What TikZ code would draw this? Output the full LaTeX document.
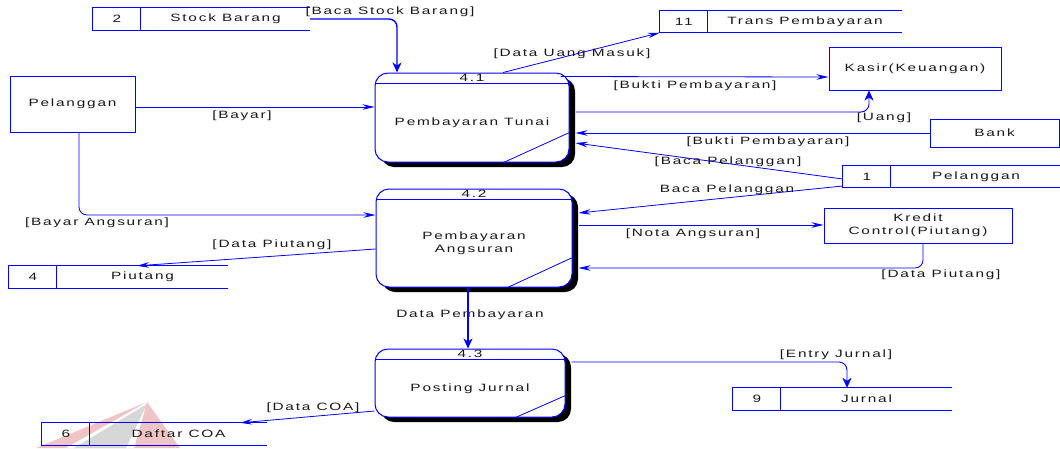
\documentclass[tikz,border=0pt]{standalone}
\usepackage{fontspec}
\setmainfont{Liberation Sans}[FakeStretch=1.45,LetterSpace=17]
\usetikzlibrary{arrows.meta,shadows,calc}
\definecolor{dfdblue}{RGB}{0,0,255}
\definecolor{logopink}{RGB}{238,196,196}
\definecolor{logogray}{RGB}{215,215,215}
\tikzset{
  txt/.style={font=\fontsize{10.6}{12.5}\selectfont, text=black!90, inner sep=0pt, align=center},
  proc/.style={draw=dfdblue, line width=1pt, fill=white, rounded corners=13pt, inner sep=0pt,
    drop shadow={shadow xshift=6pt, shadow yshift=-5pt, fill=black, opacity=1}},
  ent/.style={draw=dfdblue, line width=1pt, fill=white, inner sep=0pt},
  slot/.style={inner sep=0pt},
  sline/.style={dfdblue, line width=1pt},
  dline/.style={dfdblue, line width=0.8pt},
  flow/.style={dfdblue, line width=0.8pt, rounded corners=8pt, -{Stealth[length=12pt,width=5.5pt,inset=4pt]}},
  flowt/.style={dfdblue, line width=0.9pt, rounded corners=8pt, -{Stealth[length=10pt,width=9pt,inset=3pt,line width=0.5pt]}},
  flowb/.style={dfdblue, line width=1.4pt, rounded corners=8pt, -{Stealth[length=10pt,width=9pt,inset=3pt]}},
}
% a data store: open box with a number cell
\newcommand{\dstore}[6]{% name, center x, center y, width, number, title
  \node[slot, minimum width=#4pt, minimum height=22pt] (#1) at (#2,#3) {};
  \draw[sline] (#1.north east) -- (#1.north west) -- (#1.south west) -- (#1.south east);
  \draw[sline] ([xshift=48pt]#1.north west) -- ([xshift=48pt]#1.south west);
  \node[txt] (#1num) at ([xshift=24pt]#1.west) {#5};
  \node[txt] (#1ttl) at ($(#1.east)!0.5!([xshift=48pt]#1.west)$) {#6};
}
% a process: rounded box with id header and corner cut
\newcommand{\dproc}[8]{% name, cx, cy, w, h, id, title, cut line
  \node[proc, minimum width=#4pt, minimum height=#5pt] (#1) at (#2,#3) {};
  \draw[sline] ([yshift=-11pt]#1.north west) -- ([yshift=-11pt]#1.north east);
  \node[txt] (#1id) at ([yshift=-5.5pt]#1.north) {#6};
  \node[txt] (#1ttl) at ($([yshift=-11pt]#1.north)!0.5!(#1.south)$) {#7};
  \draw[dline] #8;
}
\begin{document}
\begin{tikzpicture}[x=1pt,y=-1pt]
\useasboundingbox (0,0) rectangle (1060,448);

% faint logo in the lower left corner
\fill[logopink] (147,402) -- (36,448) -- (180,448) -- cycle;
\fill[white] (147,402) -- (66,448) -- (134,448) -- cycle;
\fill[logogray] (147,404) -- (74,448) -- (126,448) -- cycle;

% processes
\dproc{p1}{472}{117.5}{194}{89}{4.1}{Pembayaran Tunai}{([xshift=-66pt]p1.south east) -- ([yshift=30pt]p1.south east)}
\dproc{p2}{474}{238}{196}{98}{4.2}{Pembayaran\\Angsuran}{([xshift=-65pt]p2.south east) -- ([yshift=30pt]p2.south east)}
\dproc{p3}{470}{383}{190}{68}{4.3}{Posting Jurnal}{([xshift=-50pt]p3.south east) -- ([yshift=22pt]p3.south east)}

% external entities
\node[ent, minimum width=125pt, minimum height=56pt] (pel) at (72.5,104) {};
\node[txt] at (pel.center) {Pelanggan};
\node[ent, minimum width=172pt, minimum height=43pt] (kas) at (915,68.5) {};
\node[txt] at (kas.center) {Kasir(Keuangan)};
\node[ent, minimum width=129pt, minimum height=28pt] (bank) at (994.5,133) {};
\node[txt] at (bank.center) {Bank};
\node[ent, minimum width=188pt, minimum height=35pt] (kre) at (918,225.5) {};
\node[txt] at (kre.center) {Kredit\\Control(Piutang)};

% data stores
\dstore{s2}{201.5}{19}{217}{2}{Stock Barang}
\dstore{s11}{781}{21.5}{242}{11}{Trans Pembayaran}
\dstore{s1}{952}{176.5}{218}{1}{Pelanggan}
\dstore{s4}{118.5}{277}{219}{4}{Piutang}
\dstore{s6}{154.5}{434}{225}{6}{Daftar COA}
\dstore{s9}{842.5}{399}{219}{9}{Jurnal}

% data flows
\draw[flowb] (s2.east) -- (s2.east -| 397,0) -- (p1.north -| 397,0);
\node[txt] at (390,12) {[Baca Stock Barang]};

\draw[flow] (pel.east |- 0,107) -- (p1.west |- 0,107);
\node[txt] at (242,116) {[Bayar]};

\draw[flow] (pel.south -| 79,0) -- (79,215) -- (p2.west |- 0,215);
\node[txt] at (97,223) {[Bayar Angsuran]};

\draw[flow] (p2.west |- 0,249) -- (s4.north -| 137,0);
\node[txt] at (272,245) {[Data Piutang]};

\draw[flow] (p1.north -| 503,0) -- (s11.south west);
\node[txt] at (572,54) {[Data Uang Masuk]};

\draw[flow] ([xshift=-9pt,yshift=-4pt]p1.north east) -- (kas.west |- 0,77);
\node[txt] at (695,86) {[Bukti Pembayaran]};

\draw[flowt] ([xshift=6pt]p1.east |- 0,112) -- (869,112) -- (kas.south -| 869,0);
\node[txt] at (884,118) {[Uang]};

\draw[flow] (bank.west |- 0,133) -- ([xshift=6pt]p1.east |- 0,133);
\node[txt] at (768,142) {[Bukti Pembayaran]};

\draw[flow] (s1.west |- 0,179) -- ([xshift=6pt]p1.east |- 0,143);
\node[txt] at (728,162) {[Baca Pelanggan]};

\draw[flow] (s1.west |- 0,186) -- ([xshift=6pt]p2.east |- 0,213);
\node[txt] at (727,190) {Baca Pelanggan};

\draw[flow] ([xshift=6pt]p2.east |- 0,225) -- (kre.west |- 0,225);
\node[txt] at (693,234) {[Nota Angsuran]};

\draw[flow] (kre.south -| 923,0) -- (923,268) -- ([xshift=6pt]p2.east |- 0,268);
\node[txt] at (941,275) {[Data Piutang]};

\node[txt] at (470,315) {Data Pembayaran};
\draw[flowb] (p2.south -| 468,0) -- (p3.north -| 468,0);

\draw[flowt] ([xshift=6pt]p3.east |- 0,362) -- (847,362) -- (s9.north -| 847,0);
\node[txt] at (836,355) {[Entry Jurnal]};

\draw[flow] (p3.west |- 0,411) -- (s6.north -| 240,0);
\node[txt] at (313,408) {[Data COA]};
\end{tikzpicture}
\end{document}
